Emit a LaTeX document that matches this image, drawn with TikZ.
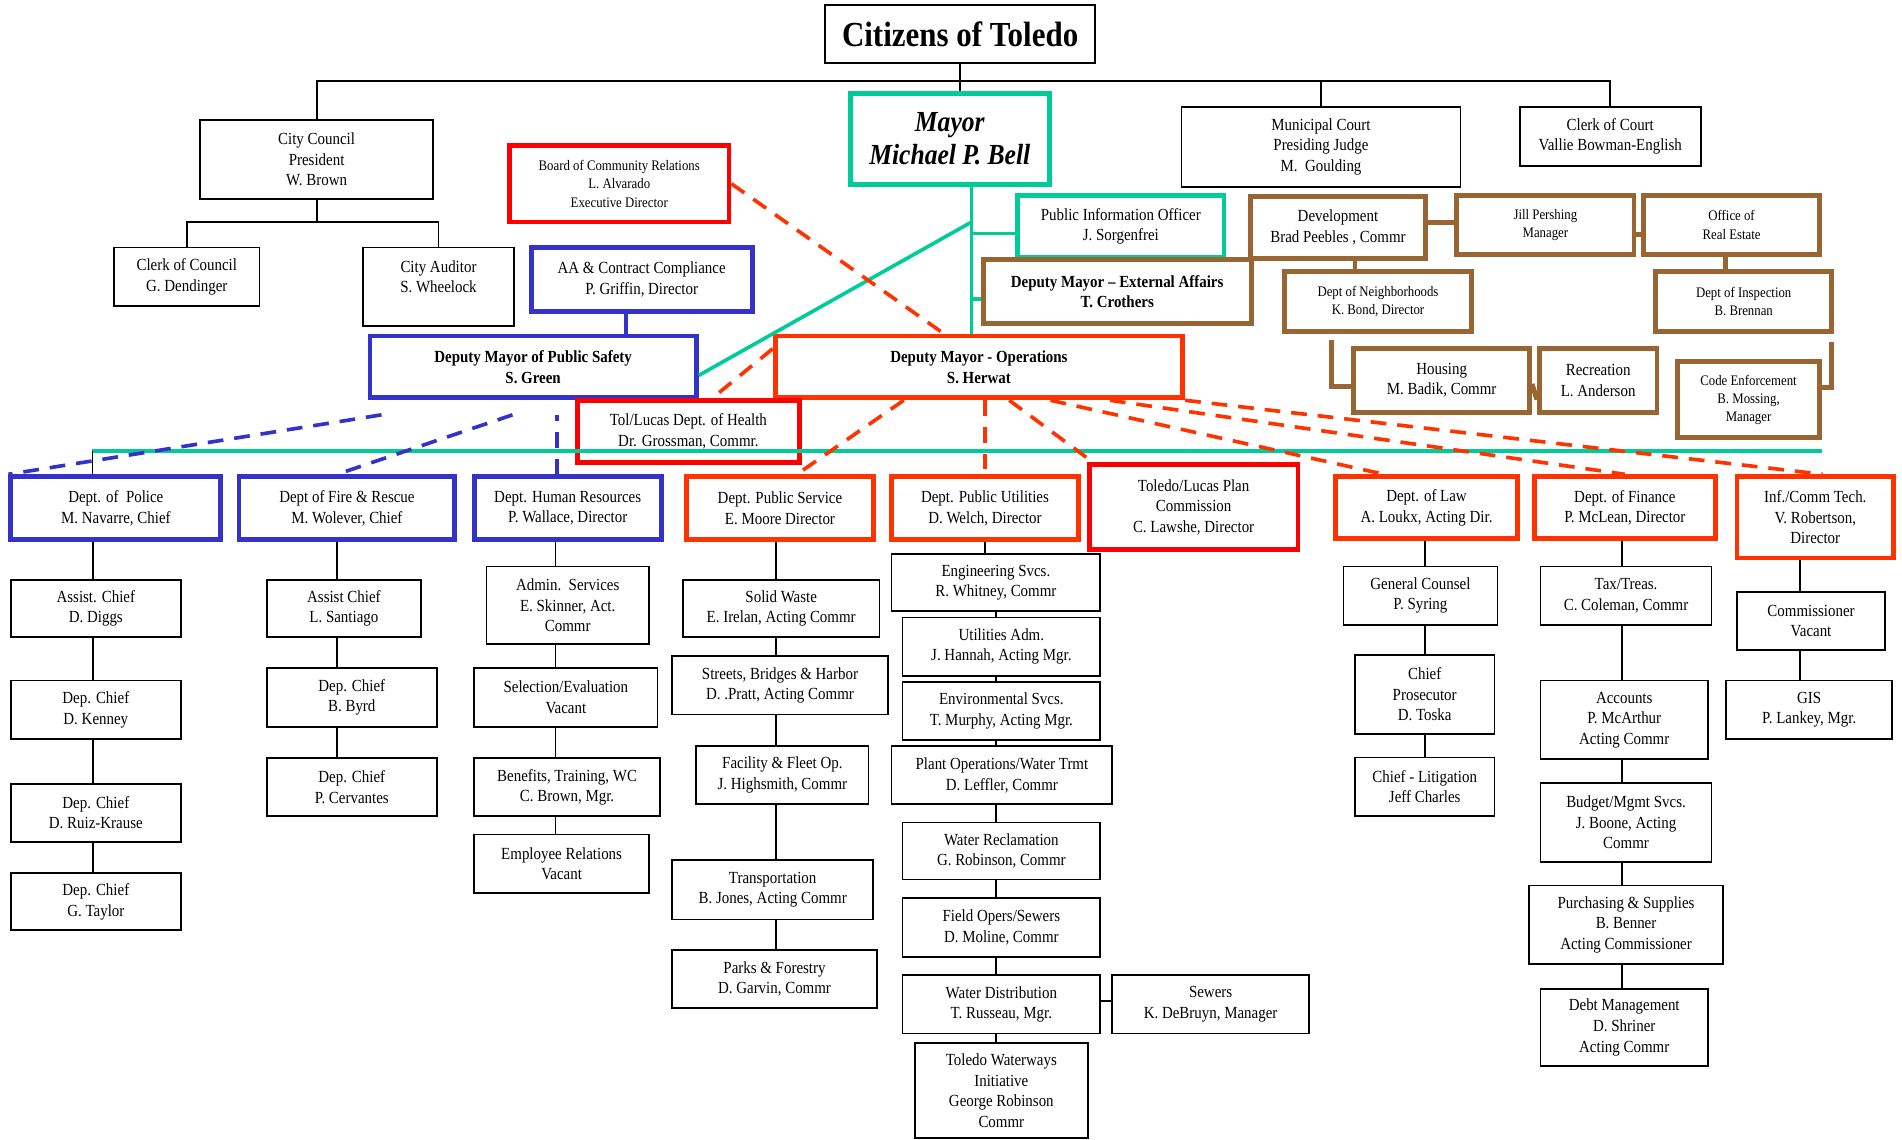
\documentclass[tikz,border=0pt]{standalone}
\usepackage{fontspec}
\setmainfont{Liberation Serif}[FakeStretch=0.88]
\definecolor{tealc}{RGB}{0,204,153}
\definecolor{bluec}{RGB}{51,51,204}
\definecolor{redc}{RGB}{255,0,0}
\definecolor{opsc}{RGB}{255,51,0}
\definecolor{brownc}{RGB}{153,102,51}
\tikzset{
  box/.style={
    rectangle, draw=black, line width=1.5pt, fill=white,
    align=center, inner sep=1pt,
    font=\fontsize{14}{17}\selectfont
  },
  sz/.style 2 args={minimum width=#1, minimum height=#2},
  smalltxt/.style={font=\fontsize{12}{15}\selectfont},
  boldtxt/.style={font=\fontsize{14}{17}\selectfont\bfseries},
  mayortxt/.style={font=\fontsize{24}{27}\selectfont\bfseries\itshape},
  titletxt/.style={font=\fontsize{29}{32}\selectfont\bfseries},
  heavy/.style={box, line width=4pt},
  tealbox/.style={heavy, draw=tealc},
  bluebox/.style={heavy, draw=bluec},
  redbox/.style={heavy, draw=redc},
  opsbox/.style={heavy, draw=opsc},
  brownbox/.style={heavy, draw=brownc},
  link/.style={draw=black, line width=1.5pt},
  teallink/.style={draw=tealc, line width=3pt},
  bluelink/.style={draw=bluec, line width=3pt},
  brownlink/.style={draw=brownc, line width=4pt},
  bluedash/.style={draw=bluec, line width=3pt, dash pattern=on 13pt off 9pt},
  reddash/.style={draw=opsc, line width=3pt, dash pattern=on 13pt off 9pt},
}

\begin{document}
\begin{tikzpicture}[x=1pt, y=-1pt]
  \useasboundingbox (0,0) rectangle (1568,939);
  \fill[white] (0,0) rectangle (1568,939);

  % top of the chart
  \node[box, titletxt, sz={223}{48}] (title) at (791.5,28) {Citizens of Toledo};
  \node[box, sz={192}{65}] (council) at (261,131.5) {City Council\\President\\W. Brown};
  \node[box, sz={120}{48}] (clerkcouncil) at (154,228) {Clerk of Council\\G. Dendinger};
  \node[box, sz={125}{65}] (auditor) at (361.5,236.5) {City Auditor\\S. Wheelock\\~};
  \node[tealbox, mayortxt, sz={164}{75}] (mayor) at (783,114.5) {Mayor\\Michael P. Bell};
  \node[box, sz={230}{66}] (municipal) at (1089,121) {Municipal Court\\Presiding Judge\\M.\ \ Goulding};
  \node[box, sz={149}{49}] (clerkcourt) at (1327.5,112.5) {Clerk of Court\\Vallie Bowman-English};

  % mayor's office
  \node[redbox, smalltxt, sz={181}{63}] (board) at (510.5,151.5) {Board of Community Relations\\L. Alvarado\\Executive Director};
  \node[bluebox, sz={182}{53}] (aa) at (529,230.5) {AA \& Contract Compliance\\P. Griffin, Director};
  \node[bluebox, boldtxt, sz={269}{51}] (dmps) at (439.5,302.5) {Deputy Mayor of Public Safety\\S. Green};
  \node[tealbox, sz={170}{51}] (pio) at (924,186.5) {Public Information Officer\\J. Sorgenfrei};
  \node[brownbox, boldtxt, sz={221}{53}] (dmea) at (921,240.5) {Deputy Mayor -- External Affairs\\T. Crothers};
  \node[opsbox, boldtxt, sz={336}{51}] (dmops) at (807,302.5) {Deputy Mayor - Operations\\S. Herwat};
  \node[redbox, sz={183}{51}] (health) at (567.5,355.5) {Tol/Lucas Dept. of Health\\Dr. Grossman, Commr.};

  % external affairs group
  \node[brownbox, sz={144}{51}] (development) at (1103,187.5) {Development\\Brad Peebles , Commr};
  \node[brownbox, smalltxt, sz={146}{49}] (jill) at (1274,185.5) {Jill Pershing\\Manager};
  \node[brownbox, smalltxt, sz={145}{49}] (realestate) at (1427.5,185.5) {Office of\\Real Estate};
  \node[brownbox, smalltxt, sz={154}{49}] (neighborhoods) at (1136,248.5) {Dept of Neighborhoods\\K. Bond, Director};
  \node[brownbox, smalltxt, sz={145}{49}] (inspection) at (1437.5,248.5) {Dept of Inspection\\B. Brennan};
  \node[brownbox, sz={145}{53}] (housing) at (1188.5,313.5) {Housing\\M. Badik, Commr};
  \node[brownbox, sz={97}{53}] (recreation) at (1317.5,313.5) {Recreation\\L. Anderson};
  \node[brownbox, smalltxt, sz={117}{63}] (codeenf) at (1441.5,329.5) {Code Enforcement\\B. Mossing,\\Manager};

  % departments
  \node[bluebox, sz={173}{52}] (police) at (95.5,419) {Dept. of\ \ Police\\M. Navarre, Chief};
  \node[bluebox, sz={178}{52}] (fire) at (286,419) {Dept of Fire \& Rescue\\M. Wolever, Chief};
  \node[bluebox, sz={154}{52}] (hr) at (468,419) {Dept. Human Resources\\P. Wallace, Director};
  \node[opsbox, sz={154}{52}] (pubserv) at (643,419) {Dept. Public Service\\E. Moore Director};
  \node[opsbox, sz={154}{52}] (pubutil) at (812,419) {Dept. Public Utilities\\D. Welch, Director};
  \node[redbox, sz={172}{70}] (plan) at (984,418) {Toledo/Lucas Plan\\Commission\\C. Lawshe, Director};
  \node[opsbox, sz={150}{51}] (law) at (1176,418.5) {Dept. of Law\\A. Loukx, Acting Dir.};
  \node[opsbox, sz={149}{51}] (finance) at (1339.5,418.5) {Dept. of Finance\\P. McLean, Director};
  \node[opsbox, sz={129}{67}] (ict) at (1496.5,426.5) {Inf./Comm Tech.\\V. Robertson,\\Director};

  % divisions
  \node[box, sz={140}{47}] (diggs) at (79,501.5) {Assist. Chief\\D. Diggs};
  \node[box, sz={140}{48}] (kenney) at (79,585) {Dep. Chief\\D. Kenney};
  \node[box, sz={140}{48}] (ruiz) at (79,670) {Dep. Chief\\D. Ruiz-Krause};
  \node[box, sz={140}{47}] (taylor) at (79,743.5) {Dep. Chief\\G. Taylor};
  \node[box, sz={127}{47}] (santiago) at (283.5,501.5) {Assist Chief\\L. Santiago};
  \node[box, sz={140}{48}] (byrd) at (290,575) {Dep. Chief\\B. Byrd};
  \node[box, sz={140}{48}] (cervantes) at (290,649) {Dep. Chief\\P. Cervantes};
  \node[box, sz={134}{64}] (adminsvc) at (468,499) {Admin.\ \ Services\\E. Skinner, Act.\\Commr};
  \node[box, sz={151}{48}] (selection) at (466.5,575) {Selection/Evaluation\\Vacant};
  \node[box, sz={153}{48}] (benefits) at (467.5,649) {Benefits, Training, WC\\C. Brown, Mgr.};
  \node[box, sz={144}{48}] (emprel) at (463,712) {Employee Relations\\Vacant};
  \node[box, sz={162}{47}] (solidwaste) at (644,501.5) {Solid Waste\\E. Irelan, Acting Commr};
  \node[box, sz={178}{48}] (streets) at (643,565) {Streets, Bridges \& Harbor\\D. .Pratt, Acting Commr};
  \node[box, sz={142}{48}] (facility) at (645,639) {Facility \& Fleet Op.\\J. Highsmith, Commr};
  \node[box, sz={166}{49}] (transport) at (637,733.5) {Transportation\\B. Jones, Acting Commr};
  \node[box, sz={169}{48}] (parks) at (638.5,807) {Parks \& Forestry\\D. Garvin, Commr};
  \node[box, sz={172}{47}] (engineering) at (821,480.5) {Engineering Svcs.\\R. Whitney, Commr};
  \node[box, sz={163}{48}] (utiladm) at (825.5,533) {Utilities Adm.\\J. Hannah, Acting Mgr.};
  \node[box, sz={163}{48}] (envsvc) at (825.5,586) {Environmental Svcs.\\T. Murphy, Acting Mgr.};
  \node[box, sz={182}{48}] (plantops) at (826,639) {Plant Operations/Water Trmt\\D. Leffler, Commr};
  \node[box, sz={163}{47}] (waterrec) at (825.5,701.5) {Water Reclamation\\G. Robinson, Commr};
  \node[box, sz={163}{49}] (fieldops) at (825.5,764.5) {Field Opers/Sewers\\D. Moline, Commr};
  \node[box, sz={163}{48}] (waterdist) at (825.5,828) {Water Distribution\\T. Russeau, Mgr.};
  \node[box, sz={162}{48}] (sewers) at (998,828) {Sewers\\K. DeBruyn, Manager};
  \node[box, sz={143}{78}] (waterways) at (825.5,899) {Toledo Waterways\\Initiative\\George Robinson\\Commr};
  \node[box, sz={127}{48}] (gencounsel) at (1171,491) {General Counsel\\P. Syring};
  \node[box, sz={115}{65}] (prosecutor) at (1174.5,572.5) {Chief\\Prosecutor\\D. Toska};
  \node[box, sz={115}{48}] (litigation) at (1174.5,648.5) {Chief - Litigation\\Jeff Charles};
  \node[box, sz={141}{48}] (taxtreas) at (1340.5,491) {Tax/Treas.\\C. Coleman, Commr};
  \node[box, sz={138}{65}] (accounts) at (1339,593.5) {Accounts\\P. McArthur\\Acting Commr};
  \node[box, sz={141}{65}] (budget) at (1340.5,678) {Budget/Mgmt Svcs.\\J. Boone, Acting\\Commr};
  \node[box, sz={160}{65}] (purchasing) at (1340.5,762.5) {Purchasing \& Supplies\\B. Benner\\Acting Commissioner};
  \node[box, sz={138}{64}] (debt) at (1339,847) {Debt Management\\D. Shriner\\Acting Commr};
  \node[box, sz={122}{48}] (commish) at (1493,512) {Commissioner\\Vacant};
  \node[box, sz={137}{48}] (gis) at (1491.5,585) {GIS\\P. Lankey, Mgr.};

  % elected officials
  \coordinate (bus) at (0,67);
  \coordinate (cbus) at (0,183);
  \draw[link] (council.north) -- (council.north |- bus) -| (clerkcourt.north);
  \draw[link] (title.south) -- (title.south |- mayor.north);
  \draw[link] (municipal.north) -- (municipal.north |- bus);
  \draw[link] (council.south) -- (council.south |- cbus) -| (clerkcouncil.north);
  \draw[link] (council.south |- cbus) -| (auditor.north);

  % mayor and deputies
  \coordinate (mtrunk) at (801,0);
  \coordinate (mdiag) at (801,183);
  \coordinate (tealL) at (76,372);
  \coordinate (tealR) at (1502,372);
  \draw[teallink] (mayor.south -| mtrunk) -- (dmops.north -| mtrunk);
  \draw[teallink] ([yshift=-6pt]pio.west) -- ([yshift=-6pt]pio.west -| mtrunk);
  \draw[teallink] ([yshift=-6pt]dmea.west) -- ([yshift=-6pt]dmea.west -| mtrunk);
  \draw[teallink] (mdiag) -- ([yshift=-7pt]dmps.east);
  \draw[teallink] (tealL) -- (tealR);
  \draw[draw=black, line width=1pt] (tealL) -- (tealL |- police.north);
  \draw[bluelink] ([xshift=-13pt]aa.south) -- ([xshift=-13pt]aa.south |- dmps.north);

  % dotted-line reports
  \draw[bluedash] ([xshift=-125pt, yshift=-12pt]dmps.south) -- (police.north west);
  \draw[bluedash] ([xshift=-17pt, yshift=-12pt]dmps.south) -- ([xshift=-8pt]fire.north);
  \draw[bluedash] ([xshift=-9pt]hr.north) -- ([xshift=-9pt, yshift=-12pt]hr.north |- dmps.south);
  \draw[reddash] (board.east) -- ([xshift=-29pt]dmops.north);
  \draw[reddash] ([yshift=15pt]dmops.west) -- ([xshift=20pt]health.north);
  \draw[reddash] ([xshift=-62pt]dmops.south) -- ([xshift=14pt]pubserv.north);
  \draw[reddash] (dmops.south -| pubutil.north) -- (pubutil.north);
  \draw[reddash] ([xshift=25pt]dmops.south) -- ([xshift=5pt]plan.north west);
  \draw[reddash] ([xshift=59pt]dmops.south) -- ([xshift=-35pt]law.north);
  \draw[reddash] ([xshift=108pt]dmops.south) -- (finance.north);
  \draw[reddash] (dmops.south east) -- ([xshift=6pt]ict.north);

  % external affairs links
  \draw[brownlink] ([yshift=4pt]development.east) -- ([yshift=4pt]development.east -| jill.west);
  \draw[brownlink] ([yshift=-8pt]jill.east) -- ([yshift=-8pt]jill.east -| realestate.west);
  \draw[brownlink] ([xshift=14pt]development.south) -- ([xshift=14pt]development.south |- neighborhoods.north);
  \draw[brownlink] ([xshift=-5pt]realestate.south) -- ([xshift=-5pt]realestate.south |- inspection.north);
  \draw[brownlink] ([xshift=-38pt, yshift=-5pt]neighborhoods.south) |- ([yshift=-5pt]housing.west);
  \draw[brownlink] ([yshift=-3pt]housing.east) -- ([yshift=-16pt]recreation.west);
  \draw[brownlink] ([xshift=-2pt, yshift=-7pt]inspection.south east) |- ([yshift=10pt]codeenf.east);

  % department columns
  \coordinate (polcol) at (77,0);
  \coordinate (firecol) at (278,0);
  \coordinate (hrcol) at (458,0);
  \coordinate (pscol) at (640,0);
  \coordinate (pucol) at (821,0);
  \coordinate (lawcol) at (1175,0);
  \coordinate (fincol) at (1337,0);
  \coordinate (ictcol) at (1484,0);
  \foreach \a/\b in {police/diggs, diggs/kenney, kenney/ruiz, ruiz/taylor}
    \draw[link] (\a.south -| polcol) -- (\b.north -| polcol);
  \foreach \a/\b in {fire/santiago, santiago/byrd, byrd/cervantes}
    \draw[link] (\a.south -| firecol) -- (\b.north -| firecol);
  \foreach \a/\b in {hr/adminsvc, adminsvc/selection, selection/benefits, benefits/emprel}
    \draw[link] (\a.south -| hrcol) -- (\b.north -| hrcol);
  \foreach \a/\b in {pubserv/solidwaste, solidwaste/streets, streets/facility, facility/transport, transport/parks}
    \draw[link] (\a.south -| pscol) -- (\b.north -| pscol);
  \draw[link] (pubutil.south) -- (pubutil.south |- engineering.north);
  \foreach \a/\b in {engineering/utiladm, utiladm/envsvc, envsvc/plantops, plantops/waterrec, waterrec/fieldops, fieldops/waterdist, waterdist/waterways}
    \draw[link] (\a.south -| pucol) -- (\b.north -| pucol);
  \draw[link] ([yshift=3pt]waterdist.east) -- ([yshift=3pt]waterdist.east -| sewers.west);
  \foreach \a/\b in {law/gencounsel, gencounsel/prosecutor, prosecutor/litigation}
    \draw[link] (\a.south -| lawcol) -- (\b.north -| lawcol);
  \foreach \a/\b in {finance/taxtreas, taxtreas/accounts, accounts/budget, budget/purchasing, purchasing/debt}
    \draw[link] (\a.south -| fincol) -- (\b.north -| fincol);
  \foreach \a/\b in {ict/commish, commish/gis}
    \draw[link] (\a.south -| ictcol) -- (\b.north -| ictcol);
\end{tikzpicture}
\end{document}
